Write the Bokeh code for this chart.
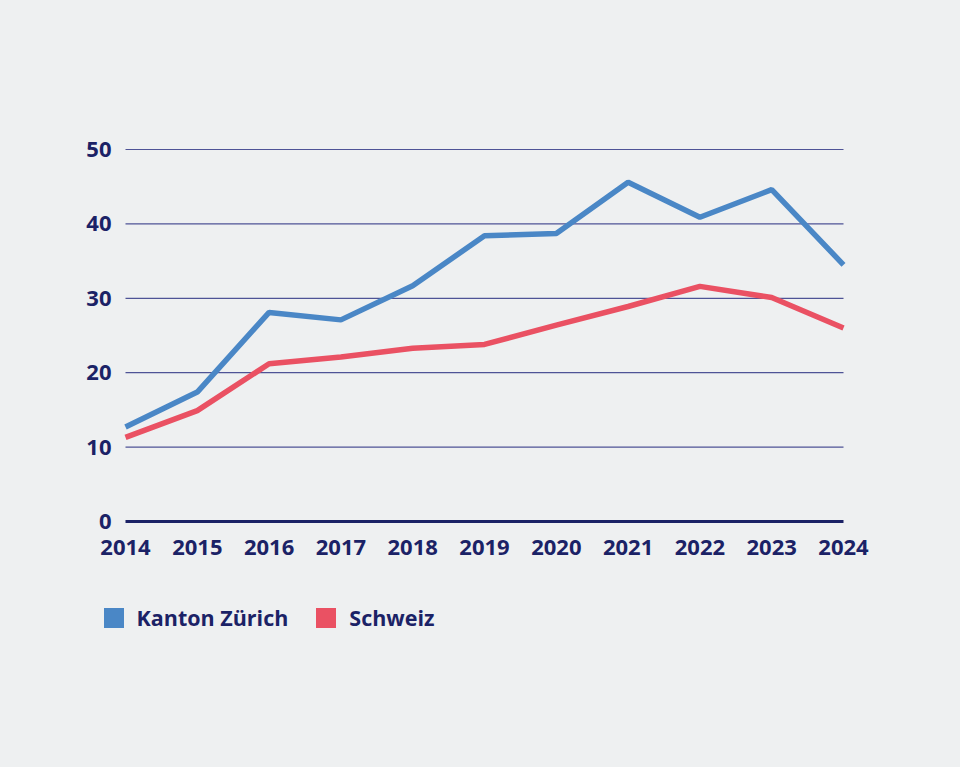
from bokeh.plotting import figure
from bokeh.models import Legend, LegendItem, FixedTicker, Range1d, ColumnDataSource
from bokeh.embed import file_html
from bokeh.resources import INLINE

years = [2014, 2015, 2016, 2017, 2018, 2019, 2020, 2021, 2022, 2023, 2024]
zuerich = [12.7, 17.4, 28.1, 27.1, 31.7, 38.4, 38.7, 45.6, 40.9, 44.6, 34.5]
schweiz = [11.3, 14.9, 21.2, 22.1, 23.3, 23.8, 26.4, 28.9, 31.6, 30.1, 26.0]
y_ticks = [0, 10, 20, 30, 40, 50]
series_names = ["Kanton Zürich", "Schweiz"]

BG = "#eef0f1"
NAVY = "#1b2266"
BLUE = "#4a87c6"
RED = "#ea5163"
GRID = "#4e5396"
FONT = "Open Sans"
FS = "22px"

# layout (pixels): data area 2014..2024 spans x 125..843, 0..50 spans y 521..149
W, H = 944, 751
FL, FR, FT, FB = 80, 880, 140, 650          # frame edges (larger than data area)
DX0, DX1, DY0, DY1 = 125, 843, 521, 149
sx = (DX1 - DX0) / (years[-1] - years[0])
sy = (DY0 - DY1) / (y_ticks[-1] - y_ticks[0])
x_range = Range1d(years[0] - (DX0 - FL) / sx, years[-1] + (FR - DX1) / sx)
y_range = Range1d(y_ticks[0] - (FB - DY0) / sy, y_ticks[-1] + (DY1 - FT) / sy)

p = figure(width=W, height=H, output_backend="svg", toolbar_location=None,
           x_range=x_range, y_range=y_range,
           min_border_left=FL, min_border_right=W - FR,
           min_border_top=FT, min_border_bottom=H - FB)
p.background_fill_color = BG
p.background_fill_alpha = 0
p.border_fill_color = BG
p.outline_line_color = None
p.xgrid.grid_line_color = None
p.ygrid.grid_line_color = None

# horizontal grid lines from the tick values
grid = ColumnDataSource(dict(x0=[years[0]] * (len(y_ticks) - 1),
                             x1=[years[-1]] * (len(y_ticks) - 1),
                             y=y_ticks[1:]))
p.segment(x0="x0", x1="x1", y0="y", y1="y", source=grid,
          line_color=GRID, line_width=1.2)

r1 = p.line(years, zuerich, line_color=BLUE, line_width=5.5)
r2 = p.line(years, schweiz, line_color=RED, line_width=5.5)

# square legend swatches (non-drawing area glyphs used only for the legend)
nan = float("nan")
swatch = ColumnDataSource(dict(l=[nan], r=[nan], b=[nan], t=[nan]))
s1 = p.quad(left="l", right="r", bottom="b", top="t", source=swatch,
            fill_color=BLUE, line_color=None)
s2 = p.quad(left="l", right="r", bottom="b", top="t", source=swatch,
            fill_color=RED, line_color=None)

# axes
p.xaxis.ticker = FixedTicker(ticks=years)
p.yaxis.ticker = FixedTicker(ticks=y_ticks)
for ax in (p.xaxis[0], p.yaxis[0]):
    ax.major_label_text_font = FONT
    ax.major_label_text_font_style = "bold"
    ax.major_label_text_font_size = FS
    ax.major_label_text_color = NAVY
    ax.major_tick_line_color = None
    ax.minor_tick_line_color = None
    ax.major_tick_in = 0
    ax.major_tick_out = 0
p.yaxis.fixed_location = years[0]
p.yaxis.bounds = (y_ticks[0], y_ticks[-1])
p.yaxis.axis_line_color = None
p.yaxis.major_label_standoff = 14
p.xaxis.fixed_location = y_ticks[0]
p.xaxis.bounds = (years[0], years[-1])
p.xaxis.axis_line_color = NAVY
p.xaxis.axis_line_width = 3
p.xaxis.major_label_standoff = 18

legend = Legend(items=[LegendItem(label=series_names[0], renderers=[s1]),
                       LegendItem(label=series_names[1], renderers=[s2])],
                orientation="horizontal", location=(100.5 - FL, FB - 632))
legend.background_fill_alpha = 0
legend.border_line_color = None
legend.padding = 0
legend.margin = 0
legend.spacing = 25
legend.glyph_width = 25
legend.glyph_height = 25
legend.label_standoff = 11
legend.label_text_font = FONT
legend.label_text_font_style = "bold"
legend.label_text_font_size = "21.5px"
legend.label_text_color = NAVY
p.add_layout(legend, "center")

html = file_html(p, INLINE)
style = "<style>html, body { background-color: %s; }</style>" % BG
html = html.replace("</head>", style + "\n</head>", 1)
open("out.html", "w").write(html)
